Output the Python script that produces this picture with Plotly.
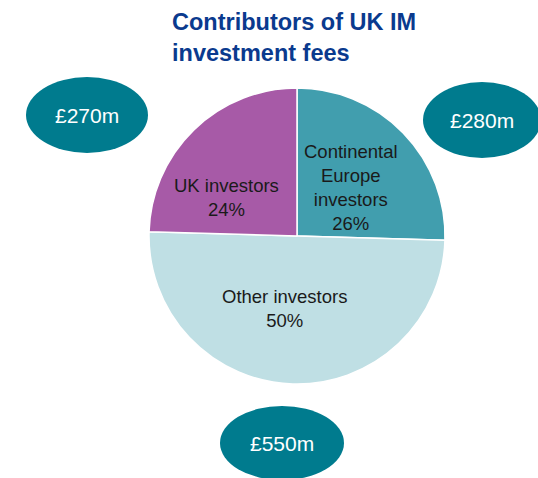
import plotly.graph_objects as go

# Data
categories = ["Continental<br>Europe<br>investors", "Other investors", "UK investors"]
fees_m = [280, 550, 270]          # £m, sets slice sizes
shares_pct = [26, 50, 24]         # printed percentages
slice_colors = ["#419eae", "#bfdfe4", "#a75aa7"]
title_text = "Contributors of UK IM<br>investment fees"

W, H = 538, 478
FONT = "Liberation Sans, Arial"

fig = go.Figure()
fig.add_trace(go.Pie(
    labels=categories,
    values=fees_m,
    sort=False,
    direction="clockwise",
    rotation=0,
    marker=dict(colors=slice_colors, line=dict(color="white", width=1.5)),
    textinfo="none",
    hoverinfo="label+value",
    showlegend=False,
    domain=dict(x=[(297 - 148) / W, (297 + 148) / W],
                y=[(H - 236 - 148) / H, (H - 236 + 148) / H]),
))

# Slice labels (pixel centres)
label_pos = [(351, 187), (284, 308), (226, 197)]
for (px, py), lab, v in zip(label_pos, categories, shares_pct):
    fig.add_annotation(x=px / W, y=(H - py) / H, xref="paper", yref="paper",
                       xanchor="center", yanchor="middle", align="center",
                       text=f"{lab}<br>{v}%", showarrow=False,
                       font=dict(family=FONT, size=18.5, color="#1a1a1a"))

# Ellipses with fee totals, one per category (pixel centres -> paper coords)
ellipses = [(482, 120, 59, 38), (282, 443, 62, 37), (87, 115, 61, 38)]
for (cx, cy, rx, ry), fee in zip(ellipses, fees_m):
    fig.add_shape(type="circle", xref="paper", yref="paper",
                  x0=(cx - rx) / W, x1=(cx + rx) / W,
                  y0=(H - cy - ry) / H, y1=(H - cy + ry) / H,
                  fillcolor="#007b8e", line=dict(width=0), layer="above")
    fig.add_annotation(x=cx / W, y=(H - cy) / H, xref="paper", yref="paper",
                       xanchor="center", yanchor="middle",
                       text=f"£{fee}m", showarrow=False,
                       font=dict(family=FONT, size=21, color="white"))

fig.add_annotation(x=170 / W, y=1 - 7 / H, xref="paper", yref="paper",
                   xanchor="left", yanchor="top", align="left",
                   text="<b>" + title_text.replace("<br>", "</b><br><b>") + "</b>",
                   showarrow=False,
                   font=dict(family=FONT, size=23.5, color="#0a3a8e"))

fig.update_layout(width=W, height=H, margin=dict(l=0, r=0, t=0, b=0),
                  paper_bgcolor="white", plot_bgcolor="white")
fig.write_html("out.html", config={"displayModeBar": False},
               post_script="document.body.style.margin='0';")
